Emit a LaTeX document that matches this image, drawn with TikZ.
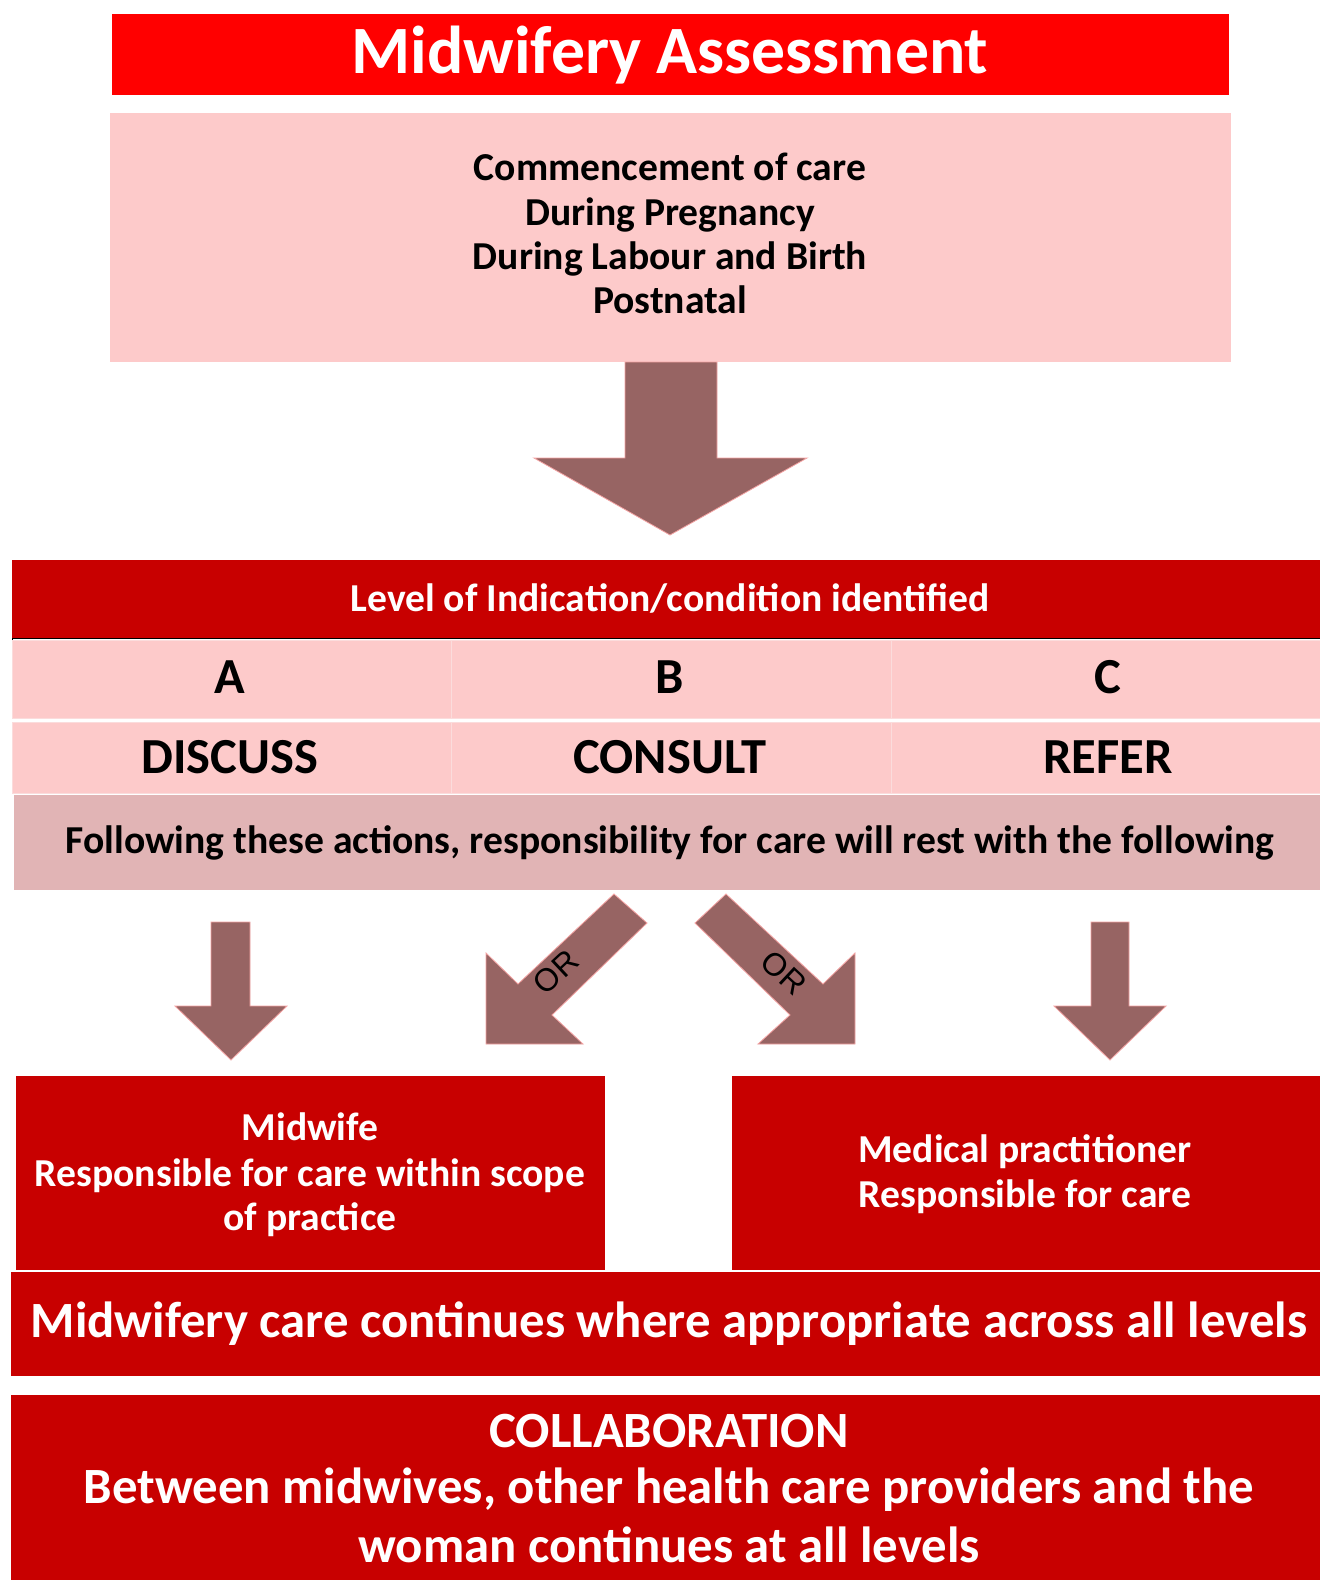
\documentclass[tikz,border=0pt]{standalone}
\usepackage{fontspec}
\setmainfont{Carlito}
\newfontfamily\orfont{Liberation Sans}
\definecolor{TitleRed}{HTML}{FF0000}
\definecolor{DeepRed}{HTML}{C80000}
\definecolor{SoftPink}{HTML}{FDCACA}
\definecolor{CellLine}{HTML}{FBDCDC}
\definecolor{DustyPink}{HTML}{E1B4B5}
\definecolor{ArrowBrown}{HTML}{976463}
\definecolor{ArrowEdge}{HTML}{F4A3A3}
\tikzset{
  panel/.style={anchor=north west,inner sep=0pt,outer sep=0pt},
  cell/.style={panel,fill=SoftPink,draw=CellLine,line width=1pt},
  titletext/.style={font=\fontsize{67.7}{80}\selectfont\bfseries,text=white,anchor=base},
  bodytext/.style={font=\fontsize{39.6}{45}\selectfont\bfseries,anchor=base},
  lettertext/.style={font=\fontsize{50.5}{60}\selectfont\bfseries,anchor=base},
  bigtext/.style={font=\fontsize{50.8}{57}\selectfont\bfseries,text=white,anchor=base},
  blockarrow/.style={fill=ArrowBrown,draw=ArrowEdge,line width=0.8pt},
  ortext/.style={font=\orfont\fontsize{32}{34}\selectfont,text=black,inner sep=0pt},
}

\begin{document}
\begin{tikzpicture}[x=1pt,y=-1pt,line join=miter]
\path[use as bounding box,fill=white] (0,0) rectangle (1320,1580);

% Title bar
\node[panel,fill=TitleRed,minimum width=1117pt,minimum height=81pt] (head) at (112,14) {};
\node[titletext] (headtxt) at (670,73) {Midwifery Assessment};

% Stages of care
\node[panel,fill=SoftPink,minimum width=1121pt,minimum height=249pt] (stages) at (110,113) {};
\foreach \i/\t/\y in {1/Commencement of care/180,2/During Pregnancy/225,
                      3/During Labour and Birth/269,4/Postnatal/313}{
  \node[bodytext] (stage\i) at (670,\y) {\t};
}

% Main arrow
\draw[blockarrow] (625,362) -- (717,362) -- (717,458) -- (807,458)
  -- (670,535) -- (534,458) -- (625,458) -- cycle;

% Level bar
\node[panel,fill=DeepRed,minimum width=1308pt,minimum height=78pt] (level) at (12,560) {};
\node[bodytext,text=white] (leveltxt) at (670,611) {Level of Indication/condition identified};
\draw[black,line width=1pt] (level.south west) -- (level.south east);
\draw[black,line width=1pt] (level.south west) -- ++(0,15);

% Levels and actions
\foreach \c/\xl/\w/\xc/\ltr/\act in {a/12/439/230/A/DISCUSS,
                                     b/451/440/670/B/CONSULT,
                                     c/891/429/1108/C/REFER}{
  \node[cell,minimum width=\w pt,minimum height=78pt] (lvl\c) at (\xl,640) {};
  \node[cell,minimum width=\w pt,minimum height=71pt] (act\c) at (\xl,722) {};
  \node[lettertext] (ltr\c) at (\xc,693) {\ltr};
  \node[lettertext] (actx\c) at (\xc,773) {\act};
}

% Hand-over row
\node[panel,fill=DustyPink,minimum width=1306pt,minimum height=95pt] (handover) at (14,795) {};
\node[bodytext] (handtxt) at (670,853)
  {Following these actions, responsibility for care will rest with the following};

% Straight arrows
\draw[blockarrow] (211,922) -- (250,922) -- (250,1006) -- (287,1006)
  -- (231,1060) -- (175,1006) -- (211,1006) -- cycle;
\draw[blockarrow] (1091,922) -- (1129,922) -- (1129,1006) -- (1166,1006)
  -- (1110,1060) -- (1054,1006) -- (1091,1006) -- cycle;

% Diagonal arrows
\draw[blockarrow] (614,894) -- (647,923) -- (552,1015) -- (583,1044)
  -- (486,1044) -- (486,953) -- (518,984) -- cycle;
\draw[blockarrow] (726,894) -- (695,923) -- (790,1015) -- (758,1044)
  -- (855,1044) -- (855,953) -- (823,984) -- cycle;
\node[ortext,rotate=43] (orleft) at (556,972) {OR};
\node[ortext,rotate=-43] (orright) at (784,973) {OR};

% Midwife
\node[panel,fill=DeepRed,minimum width=589pt,minimum height=194pt] (midwife) at (16,1076) {};
\foreach \i/\t/\y in {1/Midwife/1140,2/Responsible for care within scope/1186,
                      3/of practice/1230}{
  \node[bodytext,text=white] (mw\i) at (310,\y) {\t};
}

% Medical practitioner
\node[panel,fill=DeepRed,minimum width=588pt,minimum height=194pt] (medical) at (732,1076) {};
\foreach \i/\t/\y in {1/Medical practitioner/1162,2/Responsible for care/1207}{
  \node[bodytext,text=white] (md\i) at (1025,\y) {\t};
}

% Continuing midwifery care
\node[panel,fill=DeepRed,minimum width=1309pt,minimum height=104pt] (continue) at (11,1272) {};
\node[bigtext] (contxt) at (669,1337)
  {Midwifery care continues where appropriate across all levels};

% Collaboration
\node[panel,fill=DeepRed,minimum width=1309pt,minimum height=185pt] (collab) at (11,1395) {};
\foreach \i/\t/\y in {1/COLLABORATION/1447,
                      2/{Between midwives, other health care providers and the}/1503,
                      3/woman continues at all levels/1562}{
  \node[bigtext] (col\i) at (669,\y) {\t};
}

\end{tikzpicture}
\end{document}
